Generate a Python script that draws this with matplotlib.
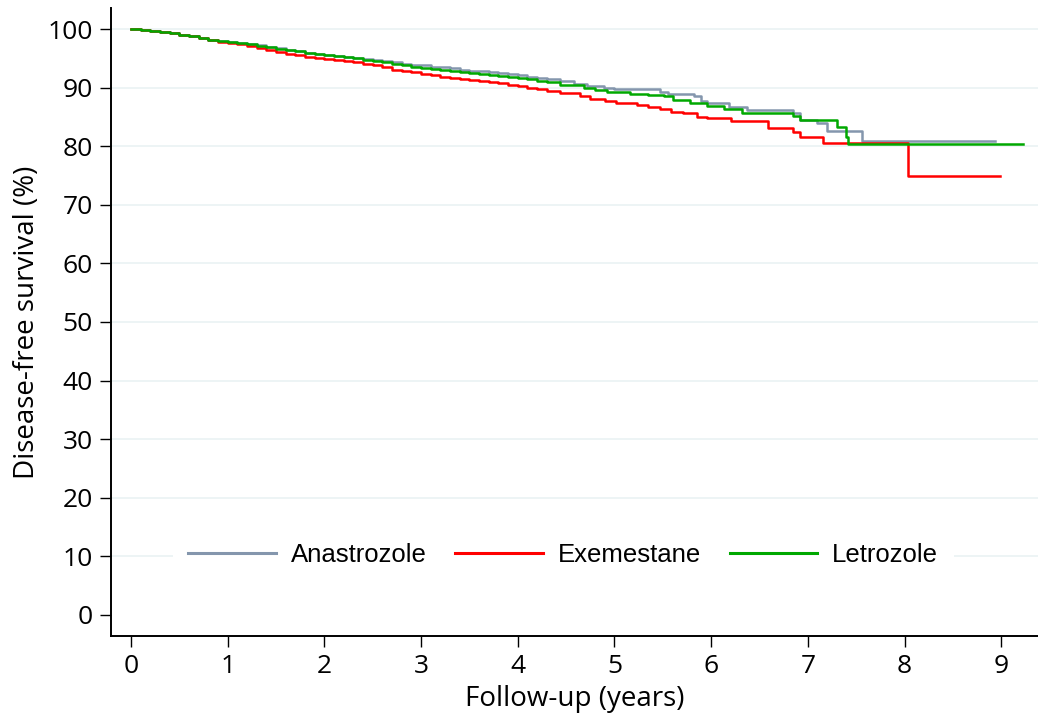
import matplotlib
matplotlib.use('Agg')
import matplotlib.pyplot as plt

# Kaplan-Meier step points (years, % disease-free)
anastrozole_t = [0, 0.1, 0.2, 0.3, 0.4, 0.5, 0.6, 0.7, 0.8, 0.9, 1.0, 1.1, 1.2, 1.3, 1.4, 1.5,
                 1.6, 1.7, 1.8, 1.9, 2.0, 2.1, 2.2, 2.3, 2.4, 2.5, 2.6, 2.7, 2.8, 2.9, 3.0, 3.1,
                 3.2, 3.3, 3.4, 3.5, 3.6, 3.7, 3.8, 3.9, 4.0, 4.1, 4.2, 4.3, 4.44, 4.58, 4.72,
                 4.89, 4.99, 5.47, 5.55, 5.82, 5.89, 5.96, 6.18, 6.37, 6.85, 6.92, 7.09, 7.20,
                 7.56, 8.94]
anastrozole_s = [100, 99.9, 99.7, 99.5, 99.3, 99.0, 98.8, 98.5, 98.2, 98.0, 97.8, 97.6, 97.4,
                 97.2, 96.9, 96.7, 96.4, 96.2, 96.0, 95.8, 95.6, 95.4, 95.2, 95.1, 94.9, 94.8,
                 94.6, 94.3, 94.1, 93.9, 93.8, 93.6, 93.5, 93.3, 93.1, 92.9, 92.8, 92.6, 92.5,
                 92.3, 92.1, 91.9, 91.6, 91.5, 91.2, 90.6, 90.3, 89.9, 89.7, 89.3, 89.0, 88.5,
                 87.7, 87.3, 86.7, 86.2, 85.6, 84.5, 83.9, 82.6, 80.9, 80.9]

exemestane_t = [0, 0.1, 0.2, 0.3, 0.4, 0.5, 0.6, 0.7, 0.8, 0.9, 1.0, 1.1, 1.2, 1.3, 1.4, 1.5,
                1.6, 1.7, 1.8, 1.9, 2.0, 2.1, 2.2, 2.3, 2.4, 2.5, 2.6, 2.7, 2.8, 2.9, 3.0, 3.1,
                3.2, 3.3, 3.4, 3.5, 3.6, 3.7, 3.8, 3.9, 4.0, 4.1, 4.2, 4.3, 4.44, 4.64, 4.75,
                4.9, 5.02, 5.23, 5.35, 5.47, 5.58, 5.71, 5.85, 5.96, 6.20, 6.59, 6.85, 6.92,
                7.16, 8.04, 8.99]
exemestane_s = [100, 99.9, 99.7, 99.5, 99.3, 99.0, 98.8, 98.5, 98.1, 97.8, 97.6, 97.4, 97.1,
                96.8, 96.5, 96.1, 95.8, 95.5, 95.3, 95.1, 94.9, 94.8, 94.6, 94.3, 94.0, 93.8,
                93.5, 93.1, 92.8, 92.6, 92.4, 92.2, 91.9, 91.7, 91.5, 91.3, 91.2, 91.0, 90.8,
                90.5, 90.3, 90.0, 89.7, 89.4, 89.1, 88.5, 88.0, 87.7, 87.4, 87.0, 86.7, 86.3,
                85.9, 85.6, 85.0, 84.8, 84.3, 83.1, 82.5, 81.6, 80.6, 74.9, 74.9]

letrozole_t = [0, 0.1, 0.2, 0.3, 0.4, 0.5, 0.6, 0.7, 0.8, 0.9, 1.0, 1.1, 1.2, 1.3, 1.4, 1.5,
               1.6, 1.7, 1.8, 1.9, 2.0, 2.1, 2.2, 2.3, 2.4, 2.5, 2.6, 2.7, 2.8, 2.9, 3.0, 3.1,
               3.2, 3.3, 3.4, 3.5, 3.6, 3.7, 3.8, 3.9, 4.0, 4.1, 4.2, 4.3, 4.44, 4.54, 4.68,
               4.8, 4.92, 5.16, 5.35, 5.51, 5.61, 5.78, 5.96, 6.13, 6.32, 6.85, 6.92, 7.30,
               7.39, 7.42, 9.23]
letrozole_s = [100, 99.8, 99.7, 99.5, 99.3, 99.0, 98.8, 98.5, 98.1, 97.9, 97.8, 97.6, 97.4,
               97.1, 96.9, 96.6, 96.4, 96.2, 96.0, 95.8, 95.5, 95.4, 95.2, 95.0, 94.8, 94.6,
               94.3, 94.0, 93.8, 93.5, 93.3, 93.2, 93.0, 92.8, 92.6, 92.5, 92.3, 92.1, 92.0,
               91.9, 91.6, 91.4, 91.1, 90.9, 90.5, 90.4, 89.9, 89.6, 89.3, 89.0, 88.8, 88.5,
               87.9, 87.4, 86.9, 86.3, 85.7, 85.2, 84.5, 83.3, 81.6, 80.4, 80.4]

x_ticks = list(range(0, 10))
y_ticks = list(range(0, 101, 10))

tick_font = 'Open Sans'
legend_font = 'Liberation Sans'

fig = plt.figure(figsize=(10.38, 7.23), dpi=100)
ax = fig.add_axes([111 / 1038, 87 / 723, 927 / 1038, 628 / 723])

ax.step(anastrozole_t, anastrozole_s, where='post', color='#8496ad', lw=1.8, label='Anastrozole', zorder=3)
ax.step(exemestane_t, exemestane_s, where='post', color='#ff0000', lw=1.8, label='Exemestane', zorder=4)
ax.step(letrozole_t, letrozole_s, where='post', color='#00a800', lw=1.8, label='Letrozole', zorder=5)

ax.set_xlim(-0.207, 9.38)
ax.set_ylim(-3.6, 103.6)
ax.set_xticks(x_ticks)
ax.set_yticks(y_ticks)
ax.set_xticklabels([str(v) for v in x_ticks], fontsize=19, family=tick_font)
ax.set_yticklabels([str(v) for v in y_ticks], fontsize=19, family=tick_font)
ax.tick_params(direction='out', length=8, width=1.0, pad=5, color='black')

ax.grid(axis='y', color='#eaf2f3', lw=1.2, zorder=0)
ax.yaxis.get_gridlines()[0].set_visible(False)
ax.set_axisbelow(True)

for side in ['top', 'right']:
    ax.spines[side].set_visible(False)
for side in ['left', 'bottom']:
    ax.spines[side].set_linewidth(1.4)

ax.set_xlabel('Follow-up (years)', fontsize=20, family=tick_font, labelpad=4)
ax.set_ylabel('Disease-free survival (%)', fontsize=20, family=tick_font, labelpad=5)

leg = ax.legend(ncol=3, loc='center', bbox_to_anchor=(0.488, 0.129),
                prop={'family': legend_font, 'size': 18.5},
                frameon=True, fancybox=False, facecolor='white', edgecolor='none', framealpha=1,
                handlelength=3.4, handletextpad=0.6, columnspacing=1.1, borderpad=0.6,
                borderaxespad=0)
leg.set_zorder(10)
for line in leg.get_lines():
    line.set_linewidth(2.2)

fig.savefig('out.png', dpi=100)
